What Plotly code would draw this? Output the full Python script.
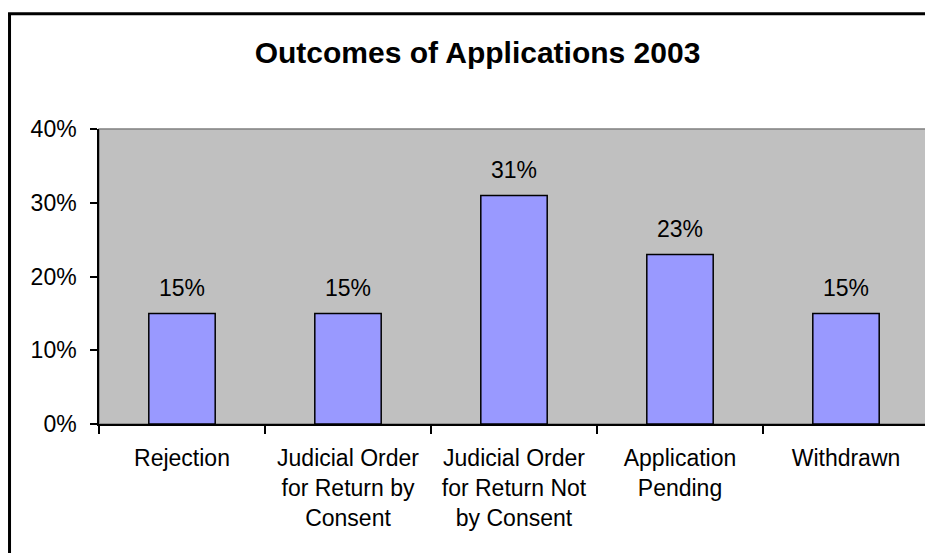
import plotly.graph_objects as go

# Outcomes of applications, 2003 (share of all applications)
categories = [
    "Rejection",
    "Judicial Order<br>for Return by<br>Consent",
    "Judicial Order<br>for Return Not<br>by Consent",
    "Application<br>Pending",
    "Withdrawn",
]
shares = [0.15, 0.15, 0.31, 0.23, 0.15]
y_ticks = [0, 0.1, 0.2, 0.3, 0.4]

FONT = "Liberation Sans, Arial, sans-serif"

fig = go.Figure(
    go.Bar(
        x=categories,
        y=shares,
        width=0.4,
        marker=dict(color="#9999FF", line=dict(color="black", width=1.5)),
        hoverinfo="skip",
    )
)

# value labels above the bars
for cat, val in zip(categories, shares):
    fig.add_annotation(
        x=cat, y=val, text=f"{val:.0%}", showarrow=False,
        yanchor="middle", yshift=25,
        font=dict(family=FONT, size=23, color="black"),
    )

# light grey border on top/right of plot area
fig.add_shape(type="rect", xref="paper", yref="paper", x0=0, x1=1, y0=0, y1=1,
              line=dict(color="#808080", width=1.5), layer="below")
# outer chart frame (only top and left edges visible)
fig.add_shape(type="rect", xref="paper", yref="paper", x0=-0.1078, x1=1.2,
              y0=-0.7, y1=1.3905, line=dict(color="black", width=3))

# page body has an 8px margin, so the figure is a bit smaller than the window
fig.update_layout(
    width=925, height=545,
    margin=dict(l=91, r=4, t=121, b=129),
    paper_bgcolor="white",
    plot_bgcolor="#C0C0C0",
    showlegend=False,
    title=dict(
        text="<b>Outcomes of Applications 2003</b>",
        x=0.5076, xanchor="center", y=0.9183, yanchor="middle",
        font=dict(family=FONT, size=30, color="black"),
    ),
    font=dict(family=FONT, size=23, color="black"),
)

fig.update_xaxes(
    showline=True, linecolor="black", linewidth=1.5,
    ticks="outside", tickson="boundaries", ticklen=8, tickcolor="black", tickwidth=1.5,
    showgrid=False, ticklabelstandoff=13,
    tickfont=dict(family=FONT, size=23, color="black"),
)
fig.update_yaxes(
    range=[0, 0.4], tickvals=y_ticks, tickformat=".0%",
    showline=True, linecolor="black", linewidth=1.5,
    ticks="outside", ticklen=7, tickcolor="black", tickwidth=1.5,
    showgrid=False, zeroline=False, ticklabelstandoff=9,
    tickfont=dict(family=FONT, size=23, color="black"),
)

fig.write_html("out.html")
